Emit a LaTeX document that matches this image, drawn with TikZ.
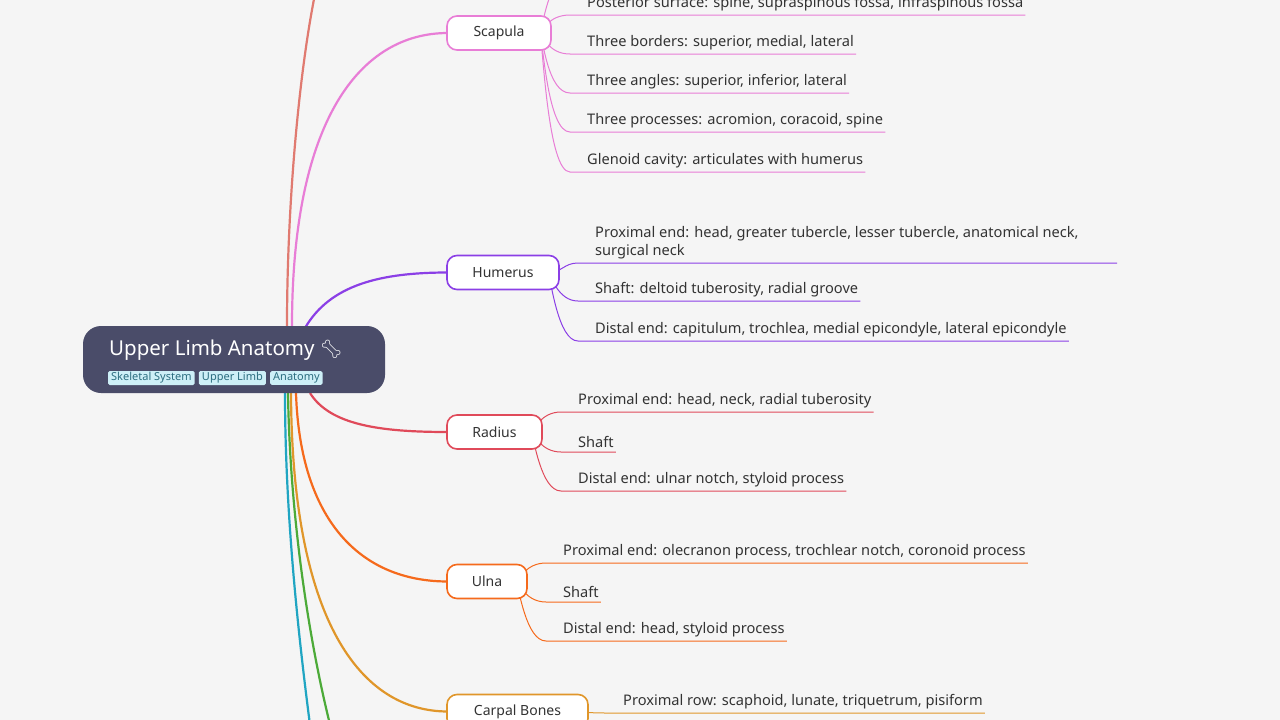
\documentclass[tikz,border=0pt]{standalone}
\usepackage{fontspec}
\usetikzlibrary{positioning,calc}
\setmainfont{Noto Sans}
\newfontfamily\emojifont{Noto Emoji}
\definecolor{bg}{HTML}{F5F5F5}
\definecolor{rootc}{HTML}{4A4C69}
\definecolor{tagbg}{HTML}{CDEFF7}
\definecolor{tagtx}{HTML}{2C6E80}
\definecolor{txt}{HTML}{333333}
\definecolor{cpink}{HTML}{E87DD6}
\definecolor{cpurp}{HTML}{8B3FE6}
\definecolor{cred}{HTML}{E04A5A}
\definecolor{corng}{HTML}{F56A1C}
\definecolor{cgold}{HTML}{E0962A}
\definecolor{csalm}{HTML}{E07A70}
\definecolor{cteal}{HTML}{20A5C2}
\definecolor{cgreen}{HTML}{4CAA38}
\tikzset{
 sub/.style={draw=#1, line width=1.6pt, fill=white, rounded corners=10pt, minimum height=34pt, inner xsep=4pt, text=txt, font=\fontsize{14}{17}\selectfont},
 leaf/.style={anchor=south west, inner xsep=0pt, inner ysep=4pt, text=txt, font=\fontsize{14.6}{18}\selectfont, align=left},
 br/.style={line width=2.2pt, #1},
 lk/.style={line width=1pt, #1},
 tag/.style={fill=tagbg, rounded corners=1.5pt, text=tagtx, font=\fontsize{11}{13}\selectfont, inner xsep=3pt, inner ysep=1.5pt}
}
\newcommand{\lf}[1]{\hspace*{17pt}#1\hspace*{2pt}}
\begin{document}
\begin{tikzpicture}[x=1pt,y=-1pt]
\useasboundingbox (0,0) rectangle (1280,720);
\clip (0,0) rectangle (1280,720);
\fill[bg] (0,0) rectangle (1280,720);
% offscreen branch ends
\coordinate (offs) at (318,-20);
\coordinate (offt) at (312,740);
\coordinate (offg) at (334,740);
% leaves
\node[leaf] (s0) at (570,-24) {\lf{Anterior surface: subscapular fossa}};
\node[leaf] (s1) at (570,15) {\lf{Posterior surface: spine, supraspinous fossa, infraspinous fossa}};
\node[leaf] (s2) at (570,54) {\lf{Three borders: superior, medial, lateral}};
\node[leaf] (s3) at (570,93) {\lf{Three angles: superior, inferior, lateral}};
\node[leaf] (s4) at (570,132) {\lf{Three processes: acromion, coracoid, spine}};
\node[leaf] (s5) at (570,172) {\lf{Glenoid cavity: articulates with humerus}};
\node[leaf] (h1) at (578,263) {\lf{Proximal end: head, greater tubercle, lesser tubercle, anatomical neck,}\\\hspace*{17pt}surgical neck};
\coordinate (h1b) at (1117,263);
\node[leaf] (h2) at (578,301) {\lf{Shaft: deltoid tuberosity, radial groove}};
\node[leaf] (h3) at (578,341) {\lf{Distal end: capitulum, trochlea, medial epicondyle, lateral epicondyle}};
\node[leaf] (r1) at (561,412) {\lf{Proximal end: head, neck, radial tuberosity}};
\node[leaf] (r2) at (561,452) {\lf{Shaft}};
\node[leaf] (r3) at (561,491) {\lf{Distal end: ulnar notch, styloid process}};
\node[leaf] (u1) at (546,563) {\lf{Proximal end: olecranon process, trochlear notch, coronoid process}};
\node[leaf] (u2) at (546,602) {\lf{Shaft}};
\node[leaf] (u3) at (546,641) {\lf{Distal end: head, styloid process}};
\node[leaf] (c1) at (606,713) {\lf{Proximal row: scaphoid, lunate, triquetrum, pisiform}};
\node[leaf] (c2) at (606,752) {\lf{Distal row: trapezium, trapezoid, capitate, hamate}};
% link anchors
\coordinate (scaE) at (540,33);
\coordinate (humE) at (548,272.5);
\coordinate (radE) at (531,432);
\coordinate (ulnE) at (516,581.5);
\coordinate (carE) at (580,711.5);
\foreach \n in {s0,s1,s2,s3,s4,s5}
  \draw[lk=cpink] (scaE) .. controls ($(scaE)!0.1!(\n.south west)$) and ([xshift=-22pt]\n.south west) .. (\n.south west) -- (\n.south east);
\draw[lk=cpurp] (humE) .. controls ([xshift=14pt]humE) and ([xshift=-14pt]h1.south west) .. (h1.south west) -- (h1b);
\foreach \n in {h2,h3}
  \draw[lk=cpurp] (humE) .. controls ($(humE)!0.1!(\n.south west)$) and ([xshift=-20pt]\n.south west) .. (\n.south west) -- (\n.south east);
\foreach \n in {r1,r2,r3}
  \draw[lk=cred] (radE) .. controls ($(radE)!0.1!(\n.south west)$) and ([xshift=-20pt]\n.south west) .. (\n.south west) -- (\n.south east);
\foreach \n in {u1,u2,u3}
  \draw[lk=corng] (ulnE) .. controls ($(ulnE)!0.1!(\n.south west)$) and ([xshift=-20pt]\n.south west) .. (\n.south west) -- (\n.south east);
\foreach \n in {c1,c2}
  \draw[lk=cgold] (carE) .. controls ($(carE)!0.1!(\n.south west)$) and ([xshift=-20pt]\n.south west) .. (\n.south west) -- (\n.south east);
% branches
\draw[br=csalm] (287,326) .. controls (287,200) and (300,60) .. (offs);
\draw[br=cteal] (285,393) .. controls (285,520) and (300,650) .. (offt);
\draw[br=cgreen] (288,393) .. controls (290,520) and (310,650) .. (offg);
\draw[br=cpink] (292,326) .. controls (292,120) and (360,33) .. (448,33);
\draw[br=cpurp] (305,328) .. controls (330,285) and (380,272.5) .. (448,272.5);
\draw[br=cred] (310,393) .. controls (330,425) and (380,432) .. (448,432);
\draw[br=corng] (296,393) .. controls (300,520) and (360,581.5) .. (448,581.5);
\draw[br=cgold] (291,393) .. controls (292,620) and (360,711.5) .. (448,711.5);
% sub nodes
\node[sub=cpink, minimum width=104pt] (sca) at (499,33) {Scapula};
\node[sub=cpurp, minimum width=112pt] (hum) at (503,272.5) {Humerus};
\node[sub=cred, minimum width=95pt] (rad) at (494.5,432) {Radius};
\node[sub=corng, minimum width=80pt] (uln) at (487,581.5) {Ulna};
\node[sub=cgold, minimum width=141pt] (car) at (517.5,711.5) {Carpal Bones};
% root
\node[fill=rootc, rounded corners=18pt, minimum width=302pt, minimum height=67pt] (root) at (234,359.5) {};
\node[anchor=base west, inner sep=0pt, text=white, font=\fontsize{20.5}{24}\selectfont] (title) at (109,355) {Upper Limb Anatomy {\emojifont\fontsize{18}{20}\selectfont 🦴}};
\node[tag, anchor=west] (t1) at (108,378) {Skeletal System};
\node[tag, right=4pt of t1] (t2) {Upper Limb};
\node[tag, right=4pt of t2] (t3) {Anatomy};
\end{tikzpicture}
\end{document}
